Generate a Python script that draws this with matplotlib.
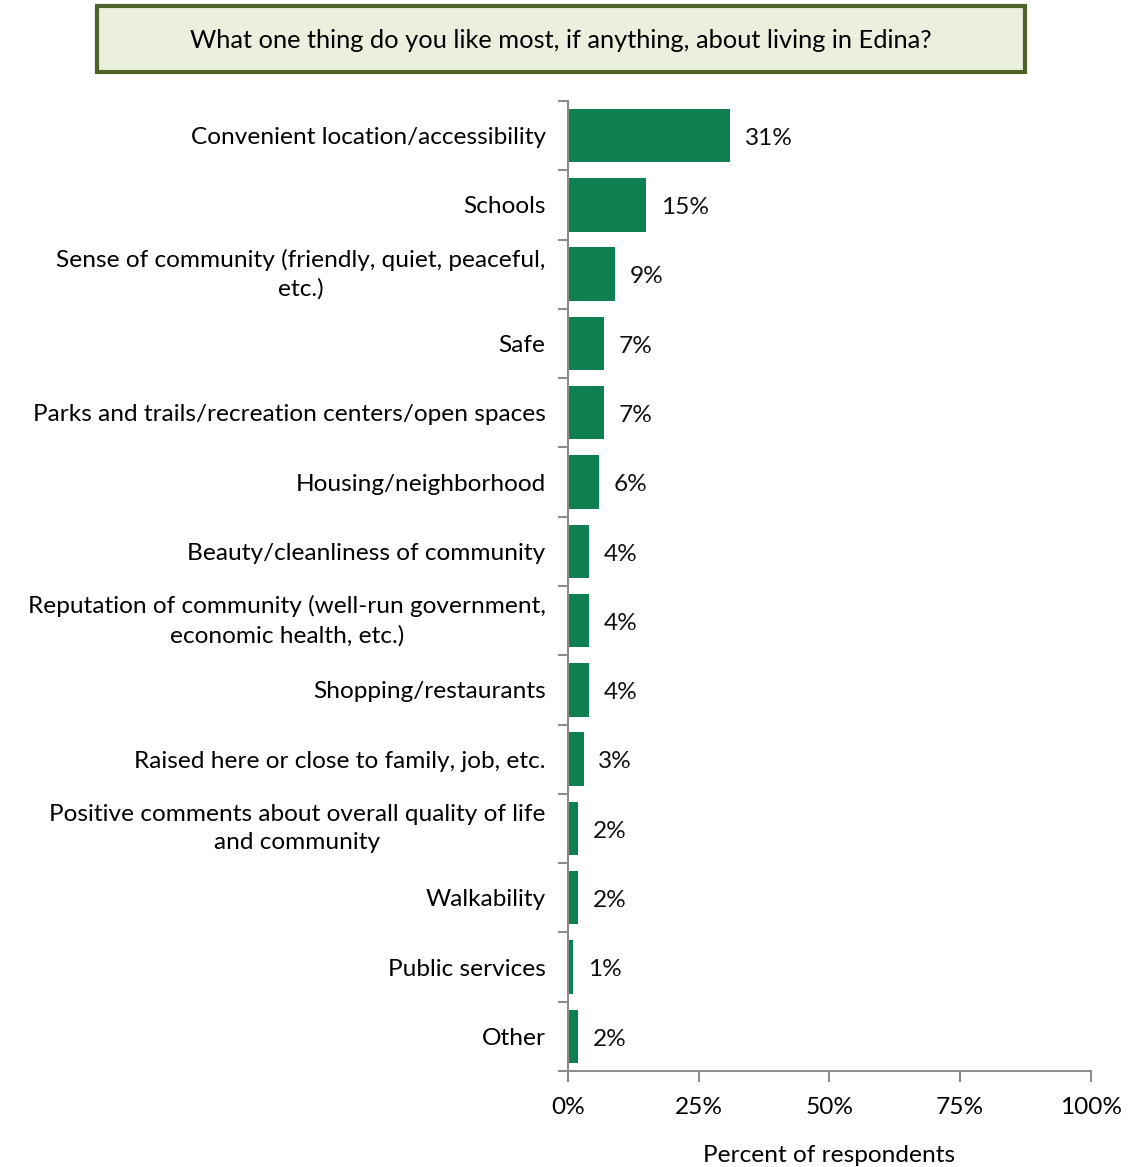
import matplotlib
matplotlib.use('Agg')
import matplotlib.pyplot as plt
from matplotlib.patches import Rectangle
from matplotlib.ticker import FixedLocator

categories = [
    'Convenient location/accessibility',
    'Schools',
    'Sense of community (friendly, quiet, peaceful,\netc.)',
    'Safe',
    'Parks and trails/recreation centers/open spaces',
    'Housing/neighborhood',
    'Beauty/cleanliness of community',
    'Reputation of community (well-run government,\neconomic health, etc.)',
    'Shopping/restaurants',
    'Raised here or close to family, job, etc.',
    'Positive comments about overall quality of life\nand community',
    'Walkability',
    'Public services',
    'Other',
]
values = [31, 15, 9, 7, 7, 6, 4, 4, 4, 3, 2, 2, 1, 2]
xticks = [0, 25, 50, 75, 100]

plt.rcParams['font.family'] = ['Lato', 'DejaVu Sans']

bar_color = '#0E7F50'
axis_color = '#8C8C8C'
fs = 17.6

fig = plt.figure(figsize=(11.29, 11.67), dpi=100)
ax = fig.add_axes([0.503, 0.0823, 0.463, 0.8312])

n = len(categories)
pos = list(range(n))
ax.barh(pos, values, height=0.77, color=bar_color)
ax.set_ylim(n - 0.5, -0.5)
ax.set_xlim(0, 100)

for p, v in zip(pos, values):
    ax.text(v + 2.8, p + 0.04, f'{v}%', va='center', ha='left', fontsize=fs, color='#111111')

ax.set_yticks(pos)
ax.set_yticklabels(categories, fontsize=fs, multialignment='center', linespacing=1.45)
for lbl in ax.get_yticklabels():
    if '\n' in lbl.get_text():
        lbl.set_verticalalignment('center')
ax.tick_params(axis='y', which='major', length=0, pad=16)
ax.yaxis.set_minor_locator(FixedLocator([i - 0.5 for i in range(n + 1)]))
ax.tick_params(axis='y', which='minor', length=7, width=1.5, color=axis_color, direction='out')

ax.set_xticks(xticks)
ax.set_xticklabels([f'{t}%' for t in xticks], fontsize=fs)
ax.tick_params(axis='x', length=8, width=1.5, color=axis_color, pad=11)
ax.set_xlabel('Percent of respondents', fontsize=fs, labelpad=19)

for side in ['top', 'right']:
    ax.spines[side].set_visible(False)
for side in ['left', 'bottom']:
    ax.spines[side].set_color(axis_color)
    ax.spines[side].set_linewidth(1.5)

# title box
box = Rectangle((97 / 1129, 1 - 72 / 1167), (1025 - 97) / 1129, 66 / 1167,
                transform=fig.transFigure, facecolor='#EBF0DE', edgecolor='#4F6228',
                linewidth=3, zorder=5)
fig.patches.append(box)
fig.text(561 / 1129, 1 - 41 / 1167, 'What one thing do you like most, if anything, about living in Edina?',
         ha='center', va='center', fontsize=18.3, zorder=6)

fig.savefig('out.png', dpi=100)
